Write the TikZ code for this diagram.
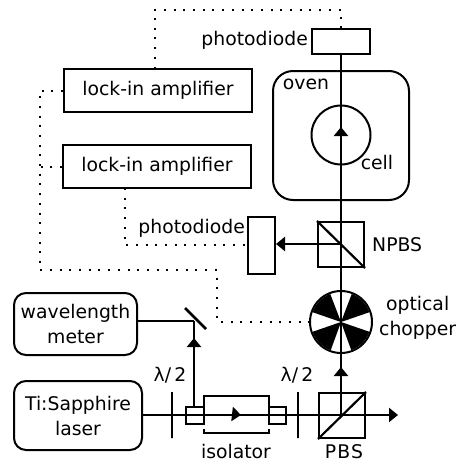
\documentclass[tikz,border=0pt]{standalone}
\usepackage{fontspec}
\setmainfont{DejaVu Sans}
\usepackage{tikz}
\usetikzlibrary{arrows.meta,calc}

\begin{document}
\begin{tikzpicture}[
    x=1pt, y=-1pt,
    every node/.style={font=\fontsize{18.8}{25}\selectfont, align=center, inner sep=0pt},
    box/.style={draw, rectangle, line width=2pt},
    roundbox/.style={box, rounded corners=12pt},
    cube/.style={box, minimum width=46pt, minimum height=45pt},
    plate/.style={draw, rectangle, line width=2pt, minimum width=0pt, minimum height=46pt},
    beam/.style={line width=2.2pt},
    arrow/.style={beam, -{Triangle[length=9pt,width=14pt]}},
    signal/.style={line width=2pt, dash pattern=on 2pt off 7.7pt}
]
\useasboundingbox (0,0) rectangle (461,463);

% Electronics
\node[box, minimum width=188pt, minimum height=43pt] (lockina) at (158,90.5) {lock-in amplifier};
\node[box, minimum width=188pt, minimum height=43pt] (lockinb) at (157,166.5) {lock-in amplifier};
\node[box, minimum width=58pt, minimum height=25pt] (pdtop) at (341,41.5) {};
\node[box, minimum width=27pt, minimum height=57pt] (pdside) at (261.5,245.5) {};
\node[anchor=east] (pdtoplabel) at (308,40) {photodiode};
\node[anchor=east] (pdsidelabel) at (245,228) {photodiode};

% Oven and cell
\node[draw, line width=2pt, rounded corners=20pt, minimum width=136pt, minimum height=129pt] (oven) at (341,135.5) {};
\node[draw, circle, line width=2pt, minimum size=59pt] (cell) at (341,135) {};
\node (ovenlabel) at (306,84) {oven};
\node (celllabel) at (377,162) {cell};

% Cubes
\node[cube] (npbs) at (341,244.5) {};
\node[cube] (pbs) at (342,415.5) {};
\node[anchor=west] (npbslabel) at (372,245) {NPBS};
\node (pbslabel) at (344,452) {P\kern1pt B\kern1pt S};

% Chopper
\node[draw, circle, line width=2pt, minimum size=62pt] (chopper) at (341,322) {};
\fill (chopper.center) -- ++(19:30pt) arc[start angle=19, end angle=69, radius=30pt] -- cycle;
\fill (chopper.center) -- ++(111:30pt) arc[start angle=111, end angle=161, radius=30pt] -- cycle;
\fill (chopper.center) -- ++(199:30pt) arc[start angle=199, end angle=250, radius=30pt] -- cycle;
\fill (chopper.center) -- ++(290:30pt) arc[start angle=290, end angle=341, radius=30pt] -- cycle;
\node[anchor=west] (chopperlabel) at (379,318) {optical\\chopper};

% Sources
\node[roundbox, minimum width=128pt, minimum height=69pt] (laser) at (78,415.5) {Ti:Sapphire\\laser};
\node[roundbox, minimum width=123pt, minimum height=62pt] (meter) at (75.5,324) {wavelength\\meter};

% Plates and isolator
\node[plate] (platea) at (172,415) {};
\node[plate] (plateb) at (298,415) {};
\node (plateatext) at (170,375) {λ/\,2};
\node (platebtext) at (297,375) {λ/\,2};
\node[box, minimum width=18pt, minimum height=17pt] (isoin) at (195,415.5) {};
\node[box, minimum width=17pt, minimum height=17pt] (isoout) at (277.5,415.5) {};
\node[minimum width=65pt, minimum height=37pt] (iso) at (236.5,414.5) {};
\node (isolabel) at (236,451) {isolator};
\draw[beam] ([yshift=9pt]iso.south west) |- (iso.north east) -- ([yshift=9pt]iso.south east);
\draw[beam] ([yshift=4pt]iso.south west) -- (iso.south west) -- (iso.south east) -- ([yshift=4pt]iso.south east);

% Mirror
\coordinate (mirrora) at (185,308);
\coordinate (mirrorb) at (206,329);
\coordinate (mirror) at (194,321);
\draw[line width=2.5pt] (mirrora) -- (mirrorb);

% Beams
\coordinate (dump) at (398,415);
\coordinate (pbscross) at (341,415);
\draw[arrow] (laser.east |- dump) -- (dump);
\draw[beam] (pbscross) -- (pdtop.south);
\draw[beam] (mirror |- isoin.north) -- (mirror);
\draw[beam] (meter.east |- mirror) -- (mirror);
\draw[arrow] (341,244) -- (pdside.east |- 341,244);
\draw[arrow] (mirror |- isoin.north) -- (194,338);
\draw[arrow] (pbscross) -- (341,367);
\draw[arrow] (cell.south) -- (341,127);
\draw[arrow] (iso.center) -- (241,415);

% Cube diagonals
\draw[beam] (npbs.north west) -- (npbs.south east);
\draw[beam] (pbs.south west) -- (pbs.north east);

% Signal lines
\coordinate (topcornera) at (155,9.5);
\coordinate (topcornerb) at (341,9.5);
\coordinate (leftcorner) at (39.5,90.5);
\coordinate (lowcornera) at (39.5,270);
\coordinate (lowcornerb) at (217,270);
\coordinate (lowcornerc) at (217,322);
\coordinate (sidecorner) at (125,245);
\draw[signal] (155,68.5) -- (topcornera) -- (topcornerb) -- (pdtop.north);
\draw[signal] (lockina.west) -- (leftcorner) -- (lowcornera) -- (lowcornerb) -- (lowcornerc) -- (chopper.west);
\draw[signal] (lockinb.west) -- (leftcorner |- lockinb);
\draw[signal] (125,188) -- (sidecorner) -- (pdside.west |- sidecorner);

\end{tikzpicture}
\end{document}
